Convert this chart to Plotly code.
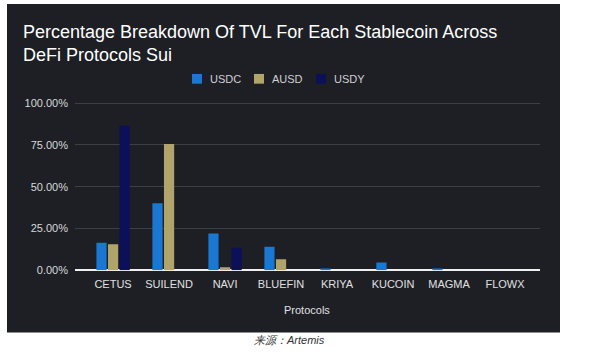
import plotly.graph_objects as go

categories = ["CETUS", "SUILEND", "NAVI", "BLUEFIN", "KRIYA", "KUCOIN", "MAGMA", "FLOWX"]
usdc = [16.5, 40.0, 22.0, 14.0, 1.0, 4.6, 0.5, 0.0]
ausd = [15.5, 75.5, 1.7, 6.6, 0.0, 0.0, 0.0, 0.0]
usdy = [86.5, 0.0, 13.4, 0.0, 0.0, 0.0, 0.0, 0.0]
y_ticks = [0, 25, 50, 75, 100]
series = [("USDC", usdc, "#1a78d2"), ("AUSD", ausd, "#b1a46b"), ("USDY", usdy, "#0b1058")]

W, H = 600, 352
font = "Arial, Liberation Sans, sans-serif"

fig = go.Figure()
for name, vals, col in series:
    fig.add_trace(go.Bar(name=name, x=categories, y=vals, marker=dict(color=col, line=dict(width=0)),
                         showlegend=False))

x_left, x_right = 75, 540
y_zero, px_per = 274, 1.72
y_top_val = 101
y_top_px = y_zero - y_top_val * px_per

shapes = [dict(type="rect", xref="paper", yref="paper", x0=7 / W, x1=560 / W, y0=1 - 338 / H, y1=1,
               fillcolor="#1d1f25", line=dict(width=0), layer="below")]
annotations = [
    dict(text="Percentage Breakdown Of TVL For Each Stablecoin Across<br>DeFi Protocols Sui",
         xref="paper", yref="paper", x=21 / W, y=1 - 16 / H, xanchor="left", yanchor="top",
         align="left", showarrow=False, font=dict(size=18, color="#ffffff", family=font)),
    dict(text="Protocols", xref="paper", yref="paper", x=307 / W, y=1 - 315 / H,
         xanchor="center", yanchor="middle", showarrow=False, font=dict(size=11, color="#e0e0e0")),
    dict(text="<i>来源：Artemis</i>", xref="paper", yref="paper", x=289 / W, y=1 - 346 / H,
         xanchor="center", yanchor="middle", showarrow=False, font=dict(size=11, color="#333333")),
]

# custom legend
leg_x = [192, 254, 316]
leg_y = 77
for (name, _, col), lx in zip(series, leg_x):
    shapes.append(dict(type="rect", xref="paper", yref="paper", x0=lx / W, x1=(lx + 10) / W,
                       y0=1 - (leg_y + 5) / H, y1=1 - (leg_y - 5) / H, fillcolor=col,
                       line=dict(width=0)))
    annotations.append(dict(text=name, xref="paper", yref="paper", x=(lx + 16) / W, y=1 - leg_y / H,
                            xanchor="left", yanchor="middle", showarrow=False,
                            font=dict(size=11, color="#d0d0d0")))

fig.update_layout(
    width=W, height=H,
    margin=dict(l=0, r=0, t=0, b=0),
    paper_bgcolor="white",
    plot_bgcolor="rgba(0,0,0,0)",
    barmode="group", bargap=0.38, bargroupgap=0.12,
    font=dict(family=font, color="#d8d8d8"),
    showlegend=False,
    xaxis=dict(domain=[x_left / W, x_right / W], range=[-0.68, 7.625], showgrid=False,
               tickfont=dict(size=11, color="#e0e0e0"), ticks="", showline=False, zeroline=False,
               ticklabelstandoff=6),
    yaxis=dict(domain=[1 - y_zero / H, 1 - y_top_px / H], range=[0, y_top_val], tickvals=y_ticks,
               ticktext=[f"{v:.2f}%" for v in y_ticks], tickfont=dict(size=11, color="#d8d8d8"),
               gridcolor="#3c3f46", gridwidth=1, zeroline=True, zerolinecolor="#f0f0f0", zerolinewidth=1.5,
               ticks="", ticklabelstandoff=6),
    shapes=shapes,
    annotations=annotations,
)

fig.write_html("out.html")
